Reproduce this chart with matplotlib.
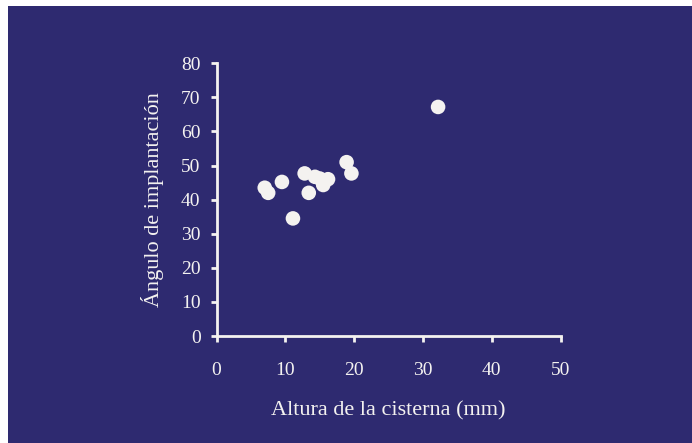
import matplotlib.pyplot as plt
from matplotlib.patches import Rectangle

# datos
altura = [32.2, 18.9, 19.6, 7.0, 7.5, 9.5, 11.1, 12.8, 13.4, 14.3, 15.0, 15.5, 16.2]
angulo = [67.2, 51.0, 47.7, 43.5, 42.0, 45.2, 34.5, 47.7, 42.0, 46.7, 46.2, 44.3, 46.0]

x_ticks = [0, 10, 20, 30, 40, 50]
y_ticks = [0, 10, 20, 30, 40, 50, 60, 70, 80]

fondo = '#2e2a70'
blanco = '#f4f2f0'

plt.rcParams['font.family'] = ['Liberation Serif', 'DejaVu Serif']

fig = plt.figure(figsize=(6.92, 4.43), dpi=100, facecolor='white')
fig.add_artist(Rectangle((8 / 692, 0), 1, 1 - 6 / 443, transform=fig.transFigure,
                         facecolor=fondo, edgecolor='none', zorder=-5))

ax = fig.add_axes([0.313, 0.2415, 0.497, 0.6156])
ax.set_zorder(2)
ax.set_facecolor('none')

ax.scatter(altura, angulo, s=110, color=blanco, edgecolors='none', zorder=3, clip_on=False)

ax.set_xlim(0, 50)
ax.set_ylim(0, 80)
ax.set_xticks(x_ticks)
ax.set_yticks(y_ticks)

for s in ['top', 'right']:
    ax.spines[s].set_visible(False)
for s in ['left', 'bottom']:
    ax.spines[s].set_color(blanco)
    ax.spines[s].set_linewidth(2)

ax.tick_params(colors=blanco, width=2, length=4.5, labelsize=14)
ax.tick_params(axis='x', pad=14)
ax.tick_params(axis='y', pad=7)

ax.set_xlabel('Altura de la cisterna (mm)', color=blanco, fontsize=16, labelpad=16)
ax.set_ylabel('Ángulo de implantación', color=blanco, fontsize=16, labelpad=12)

fig.savefig('out.png', dpi=100, facecolor=fig.get_facecolor())
